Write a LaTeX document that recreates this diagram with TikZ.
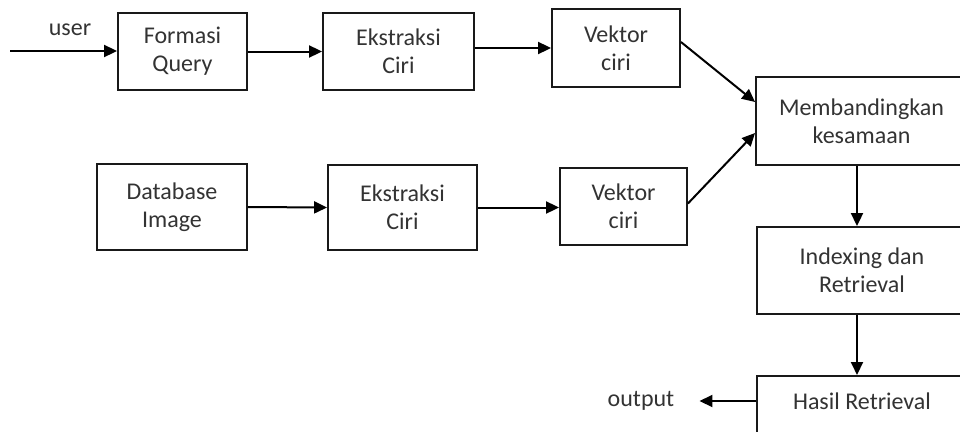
\documentclass[tikz,border=0pt]{standalone}
\usepackage{fontspec}
\setmainfont{Carlito}
\usetikzlibrary{arrows.meta}
\begin{document}
\begin{tikzpicture}[x=1pt,y=1pt,
  every node/.style={font=\fontsize{24}{28}\selectfont, text=black!80},
  blk/.style={draw=black!90, line width=1.9pt, align=center, inner sep=0pt, fill=white},
  txt/.style={inner sep=3pt},
  arr/.style={line width=2pt, -{Triangle[length=13pt,width=12pt]}}]
\useasboundingbox (0,0) rectangle (960,-431);
\clip (0,0) rectangle (960,-431);
% boxes
\node[blk, minimum width=129pt, minimum height=77pt] (fq) at (182.5,-51.5) {Formasi\\Query};
\node[blk, minimum width=151pt, minimum height=77pt] (ek1) at (398.5,-51.5) {Ekstraksi\\Ciri};
\node[blk, minimum width=128pt, minimum height=78pt] (vk1) at (616,-48) {Vektor\\ciri};
\node[blk, minimum width=211pt, minimum height=88pt] (mb) at (861.5,-121) {Membandingkan\\kesamaan};
\node[blk, minimum width=150pt, minimum height=86pt] (db) at (172,-207) {Database\\Image};
\node[blk, minimum width=149pt, minimum height=85pt] (ek2) at (402.5,-207.5) {Ekstraksi\\Ciri};
\node[blk, minimum width=127pt, minimum height=77pt] (vk2) at (623.5,-206.5) {Vektor\\ciri};
\node[blk, minimum width=210pt, minimum height=87pt] (ix) at (862,-270.5) {Indexing dan\\Retrieval};
\node[blk, minimum width=210pt, minimum height=80pt, anchor=north] (hr) at (862,-375) {};
\node[txt] (hrt) at (862,-401) {Hasil Retrieval};
% free labels
\node[txt] (user) at (70,-30) {user};
\node[txt] (out) at (641,-401) {output};
\coordinate (start) at (10,-51);
% connectors
\draw[arr] (start) -- (start -| fq.west);
\draw[arr] (fq.east) -- (ek1.west);
\draw[arr] (ek1.east |- vk1.west) -- (vk1.west);
\draw[arr] (db.east) -- (ek2.west);
\draw[arr] (ek2.east) -- (ek2.east -| vk2.west);
\draw[arr] ([yshift=6pt]vk1.east) -- ([yshift=19pt]mb.west);
\draw[arr] ([yshift=3pt]vk2.east) -- ([yshift=-12pt]mb.west);
\draw[arr] ([xshift=-4.5pt]mb.south) -- ([xshift=-4.5pt]mb.south |- ix.north);
\draw[arr] ([xshift=-5pt]ix.south) -- ([xshift=-5pt]ix.south |- hr.north);
\draw[arr] (hr.west |- hrt) -- ([xshift=22pt]out.east);
\end{tikzpicture}
\end{document}
